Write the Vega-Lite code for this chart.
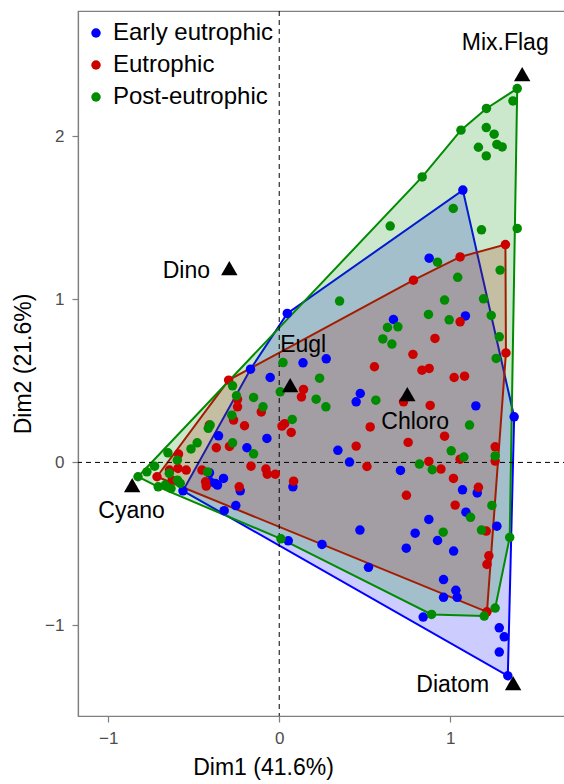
{
"$schema":"https://vega.github.io/schema/vega-lite/v6.json",
"width":490,"height":705,
"autosize":{"type":"none"},
"padding":{"left":78,"top":11,"right":0,"bottom":68},
"config":{"font":"Liberation Sans","view":{"stroke":"#7f7f7f","strokeWidth":1.2},
 "axis":{"grid":false,"domainColor":"#7f7f7f","domainWidth":1.2,"tickColor":"#7f7f7f","tickWidth":1.2,"tickSize":6,"labelColor":"#4d4d4d","labelFontSize":17,"titleFontSize":23,"titleFontWeight":"normal","titleColor":"#000000","labelPadding":8,"titlePadding":10}},
"datasets":{
"hull":[
{"hgrp":"Early eutrophic","ord":1,"d1":1.074,"d2":1.671},
{"hgrp":"Early eutrophic","ord":2,"d1":1.374,"d2":0.280},
{"hgrp":"Early eutrophic","ord":3,"d1":1.337,"d2":-1.309},
{"hgrp":"Early eutrophic","ord":4,"d1":-0.563,"d2":-0.174},
{"hgrp":"Early eutrophic","ord":5,"d1":-0.168,"d2":0.572},
{"hgrp":"Early eutrophic","ord":6,"d1":0.047,"d2":0.914},
{"hgrp":"Eutrophic","ord":1,"d1":1.323,"d2":1.337},
{"hgrp":"Eutrophic","ord":2,"d1":1.326,"d2":0.672},
{"hgrp":"Eutrophic","ord":3,"d1":1.215,"d2":-0.917},
{"hgrp":"Eutrophic","ord":4,"d1":-0.715,"d2":-0.088},
{"hgrp":"Eutrophic","ord":5,"d1":-0.296,"d2":0.505},
{"hgrp":"Eutrophic","ord":6,"d1":0.785,"d2":1.118},
{"hgrp":"Eutrophic","ord":7,"d1":1.058,"d2":1.261},
{"hgrp":"Post-eutrophic","ord":1,"d1":1.392,"d2":2.294},
{"hgrp":"Post-eutrophic","ord":2,"d1":1.348,"d2":-0.460},
{"hgrp":"Post-eutrophic","ord":3,"d1":1.263,"d2":-0.894},
{"hgrp":"Post-eutrophic","ord":4,"d1":1.199,"d2":-0.943},
{"hgrp":"Post-eutrophic","ord":5,"d1":0.891,"d2":-0.933},
{"hgrp":"Post-eutrophic","ord":6,"d1":0.010,"d2":-0.469},
{"hgrp":"Post-eutrophic","ord":7,"d1":-0.708,"d2":-0.150},
{"hgrp":"Post-eutrophic","ord":8,"d1":-0.826,"d2":-0.088},
{"hgrp":"Post-eutrophic","ord":9,"d1":0.836,"d2":1.752},
{"hgrp":"Post-eutrophic","ord":10,"d1":1.063,"d2":2.039},
{"hgrp":"Post-eutrophic","ord":11,"d1":1.212,"d2":2.172}
],
"pts":[
{"grp":"Early eutrophic","d1":1.074,"d2":1.671},
{"grp":"Early eutrophic","d1":0.877,"d2":1.253},
{"grp":"Early eutrophic","d1":0.047,"d2":0.914},
{"grp":"Early eutrophic","d1":0.668,"d2":0.877},
{"grp":"Early eutrophic","d1":1.089,"d2":0.899},
{"grp":"Early eutrophic","d1":0.139,"d2":0.611},
{"grp":"Early eutrophic","d1":0.275,"d2":0.636},
{"grp":"Early eutrophic","d1":0.474,"d2":0.423},
{"grp":"Early eutrophic","d1":0.450,"d2":0.372},
{"grp":"Early eutrophic","d1":1.150,"d2":0.347},
{"grp":"Early eutrophic","d1":1.374,"d2":0.280},
{"grp":"Early eutrophic","d1":0.343,"d2":0.074},
{"grp":"Early eutrophic","d1":0.411,"d2":0.002},
{"grp":"Early eutrophic","d1":0.709,"d2":-0.049},
{"grp":"Early eutrophic","d1":0.080,"d2":-0.150},
{"grp":"Early eutrophic","d1":1.072,"d2":-0.168},
{"grp":"Early eutrophic","d1":1.158,"d2":-0.187},
{"grp":"Early eutrophic","d1":1.092,"d2":-0.305},
{"grp":"Early eutrophic","d1":0.875,"d2":-0.350},
{"grp":"Early eutrophic","d1":1.273,"d2":-0.391},
{"grp":"Early eutrophic","d1":0.472,"d2":-0.415},
{"grp":"Early eutrophic","d1":0.795,"d2":-0.434},
{"grp":"Early eutrophic","d1":0.926,"d2":-0.479},
{"grp":"Early eutrophic","d1":0.053,"d2":-0.481},
{"grp":"Early eutrophic","d1":0.250,"d2":-0.503},
{"grp":"Early eutrophic","d1":0.743,"d2":-0.526},
{"grp":"Early eutrophic","d1":1.020,"d2":-0.544},
{"grp":"Early eutrophic","d1":0.961,"d2":-0.719},
{"grp":"Early eutrophic","d1":0.522,"d2":-0.644},
{"grp":"Early eutrophic","d1":-0.228,"d2":-0.174},
{"grp":"Early eutrophic","d1":-0.254,"d2":-0.265},
{"grp":"Early eutrophic","d1":-0.322,"d2":-0.296},
{"grp":"Early eutrophic","d1":1.033,"d2":-0.785},
{"grp":"Early eutrophic","d1":0.961,"d2":-0.828},
{"grp":"Early eutrophic","d1":1.041,"d2":-0.828},
{"grp":"Early eutrophic","d1":0.842,"d2":-0.949},
{"grp":"Early eutrophic","d1":1.287,"d2":-1.015},
{"grp":"Early eutrophic","d1":1.316,"d2":-1.070},
{"grp":"Early eutrophic","d1":1.287,"d2":-1.164},
{"grp":"Early eutrophic","d1":1.337,"d2":-1.309},
{"grp":"Early eutrophic","d1":-0.168,"d2":0.572},
{"grp":"Early eutrophic","d1":-0.053,"d2":0.521},
{"grp":"Early eutrophic","d1":-0.355,"d2":0.163},
{"grp":"Early eutrophic","d1":-0.072,"d2":0.147},
{"grp":"Early eutrophic","d1":-0.189,"d2":0.090},
{"grp":"Early eutrophic","d1":-0.408,"d2":-0.064},
{"grp":"Early eutrophic","d1":-0.404,"d2":-0.119},
{"grp":"Early eutrophic","d1":-0.361,"d2":-0.139},
{"grp":"Early eutrophic","d1":-0.326,"d2":-0.098},
{"grp":"Early eutrophic","d1":-0.374,"d2":-0.129},
{"grp":"Early eutrophic","d1":-0.563,"d2":-0.174},
{"grp":"Eutrophic","d1":1.323,"d2":1.337},
{"grp":"Eutrophic","d1":1.058,"d2":1.261},
{"grp":"Eutrophic","d1":0.785,"d2":1.118},
{"grp":"Eutrophic","d1":1.058,"d2":0.863},
{"grp":"Eutrophic","d1":0.911,"d2":0.761},
{"grp":"Eutrophic","d1":0.782,"d2":0.663},
{"grp":"Eutrophic","d1":0.557,"d2":0.587},
{"grp":"Eutrophic","d1":0.835,"d2":0.566},
{"grp":"Eutrophic","d1":0.877,"d2":0.577},
{"grp":"Eutrophic","d1":1.023,"d2":0.521},
{"grp":"Eutrophic","d1":1.084,"d2":0.529},
{"grp":"Eutrophic","d1":1.326,"d2":0.672},
{"grp":"Eutrophic","d1":0.142,"d2":0.448},
{"grp":"Eutrophic","d1":0.130,"d2":0.402},
{"grp":"Eutrophic","d1":0.727,"d2":0.372},
{"grp":"Eutrophic","d1":0.883,"d2":0.350},
{"grp":"Eutrophic","d1":0.016,"d2":0.223},
{"grp":"Eutrophic","d1":0.070,"d2":0.184},
{"grp":"Eutrophic","d1":0.532,"d2":0.218},
{"grp":"Eutrophic","d1":0.967,"d2":0.161},
{"grp":"Eutrophic","d1":0.450,"d2":0.100},
{"grp":"Eutrophic","d1":0.754,"d2":0.123},
{"grp":"Eutrophic","d1":1.263,"d2":0.096},
{"grp":"Eutrophic","d1":1.058,"d2":0.020},
{"grp":"Eutrophic","d1":1.263,"d2":0.008},
{"grp":"Eutrophic","d1":0.875,"d2":0.006},
{"grp":"Eutrophic","d1":0.513,"d2":-0.025},
{"grp":"Eutrophic","d1":0.946,"d2":-0.041},
{"grp":"Eutrophic","d1":0.084,"d2":-0.115},
{"grp":"Eutrophic","d1":1.019,"d2":-0.098},
{"grp":"Eutrophic","d1":1.165,"d2":-0.153},
{"grp":"Eutrophic","d1":0.744,"d2":-0.202},
{"grp":"Eutrophic","d1":1.029,"d2":-0.262},
{"grp":"Eutrophic","d1":1.211,"d2":-0.421},
{"grp":"Eutrophic","d1":1.226,"d2":-0.573},
{"grp":"Eutrophic","d1":1.215,"d2":-0.626},
{"grp":"Eutrophic","d1":1.215,"d2":-0.917},
{"grp":"Eutrophic","d1":-0.234,"d2":-0.150},
{"grp":"Eutrophic","d1":-0.427,"d2":-0.145},
{"grp":"Eutrophic","d1":-0.296,"d2":0.505},
{"grp":"Eutrophic","d1":-0.244,"d2":0.387},
{"grp":"Eutrophic","d1":-0.244,"d2":0.341},
{"grp":"Eutrophic","d1":-0.267,"d2":0.260},
{"grp":"Eutrophic","d1":-0.203,"d2":0.225},
{"grp":"Eutrophic","d1":-0.105,"d2":0.310},
{"grp":"Eutrophic","d1":-0.409,"d2":0.229},
{"grp":"Eutrophic","d1":-0.368,"d2":0.090},
{"grp":"Eutrophic","d1":-0.291,"d2":0.098},
{"grp":"Eutrophic","d1":-0.165,"d2":-0.023},
{"grp":"Eutrophic","d1":-0.078,"d2":-0.041},
{"grp":"Eutrophic","d1":-0.023,"d2":-0.072},
{"grp":"Eutrophic","d1":-0.452,"d2":-0.047},
{"grp":"Eutrophic","d1":-0.431,"d2":-0.119},
{"grp":"Eutrophic","d1":-0.589,"d2":0.051},
{"grp":"Eutrophic","d1":-0.544,"d2":-0.047},
{"grp":"Eutrophic","d1":-0.592,"d2":-0.037},
{"grp":"Eutrophic","d1":-0.715,"d2":-0.088},
{"grp":"Eutrophic","d1":-0.626,"d2":-0.109},
{"grp":"Eutrophic","d1":-0.642,"d2":-0.047},
{"grp":"Eutrophic","d1":0.032,"d2":0.238},
{"grp":"Eutrophic","d1":-0.070,"d2":-0.072},
{"grp":"Post-eutrophic","d1":1.392,"d2":2.294},
{"grp":"Post-eutrophic","d1":1.367,"d2":2.218},
{"grp":"Post-eutrophic","d1":1.212,"d2":2.172},
{"grp":"Post-eutrophic","d1":1.063,"d2":2.039},
{"grp":"Post-eutrophic","d1":1.211,"d2":2.055},
{"grp":"Post-eutrophic","d1":1.257,"d2":2.014},
{"grp":"Post-eutrophic","d1":1.165,"d2":1.934},
{"grp":"Post-eutrophic","d1":1.273,"d2":1.951},
{"grp":"Post-eutrophic","d1":1.304,"d2":1.936},
{"grp":"Post-eutrophic","d1":1.211,"d2":1.881},
{"grp":"Post-eutrophic","d1":0.836,"d2":1.752},
{"grp":"Post-eutrophic","d1":1.018,"d2":1.558},
{"grp":"Post-eutrophic","d1":0.649,"d2":1.450},
{"grp":"Post-eutrophic","d1":1.183,"d2":1.427},
{"grp":"Post-eutrophic","d1":1.392,"d2":1.436},
{"grp":"Post-eutrophic","d1":0.926,"d2":1.229},
{"grp":"Post-eutrophic","d1":1.044,"d2":1.136},
{"grp":"Post-eutrophic","d1":0.967,"d2":0.996},
{"grp":"Post-eutrophic","d1":0.353,"d2":0.990},
{"grp":"Post-eutrophic","d1":1.292,"d2":1.180},
{"grp":"Post-eutrophic","d1":0.873,"d2":0.908},
{"grp":"Post-eutrophic","d1":0.994,"d2":0.875},
{"grp":"Post-eutrophic","d1":1.195,"d2":1.004},
{"grp":"Post-eutrophic","d1":1.240,"d2":0.902},
{"grp":"Post-eutrophic","d1":1.287,"d2":0.771},
{"grp":"Post-eutrophic","d1":1.269,"d2":0.638},
{"grp":"Post-eutrophic","d1":0.633,"d2":0.828},
{"grp":"Post-eutrophic","d1":0.694,"d2":0.832},
{"grp":"Post-eutrophic","d1":0.606,"d2":0.758},
{"grp":"Post-eutrophic","d1":0.659,"d2":0.726},
{"grp":"Post-eutrophic","d1":0.022,"d2":0.613},
{"grp":"Post-eutrophic","d1":0.236,"d2":0.517},
{"grp":"Post-eutrophic","d1":0.216,"d2":0.388},
{"grp":"Post-eutrophic","d1":0.273,"d2":0.341},
{"grp":"Post-eutrophic","d1":0.565,"d2":0.382},
{"grp":"Post-eutrophic","d1":0.006,"d2":0.433},
{"grp":"Post-eutrophic","d1":0.076,"d2":0.264},
{"grp":"Post-eutrophic","d1":1.113,"d2":0.229},
{"grp":"Post-eutrophic","d1":1.006,"d2":0.071},
{"grp":"Post-eutrophic","d1":1.080,"d2":0.033},
{"grp":"Post-eutrophic","d1":1.263,"d2":0.040},
{"grp":"Post-eutrophic","d1":0.820,"d2":-0.010},
{"grp":"Post-eutrophic","d1":0.895,"d2":-0.045},
{"grp":"Post-eutrophic","d1":1.244,"d2":-0.264},
{"grp":"Post-eutrophic","d1":1.119,"d2":-0.337},
{"grp":"Post-eutrophic","d1":0.959,"d2":-0.428},
{"grp":"Post-eutrophic","d1":1.183,"d2":-0.415},
{"grp":"Post-eutrophic","d1":1.348,"d2":-0.460},
{"grp":"Post-eutrophic","d1":0.010,"d2":-0.469},
{"grp":"Post-eutrophic","d1":1.263,"d2":-0.894},
{"grp":"Post-eutrophic","d1":1.199,"d2":-0.943},
{"grp":"Post-eutrophic","d1":0.891,"d2":-0.933},
{"grp":"Post-eutrophic","d1":-0.273,"d2":0.470},
{"grp":"Post-eutrophic","d1":-0.250,"d2":0.409},
{"grp":"Post-eutrophic","d1":-0.150,"d2":0.399},
{"grp":"Post-eutrophic","d1":-0.095,"d2":0.341},
{"grp":"Post-eutrophic","d1":-0.277,"d2":0.290},
{"grp":"Post-eutrophic","d1":-0.415,"d2":0.209},
{"grp":"Post-eutrophic","d1":-0.404,"d2":0.229},
{"grp":"Post-eutrophic","d1":-0.273,"d2":0.120},
{"grp":"Post-eutrophic","d1":-0.150,"d2":0.053},
{"grp":"Post-eutrophic","d1":-0.480,"d2":0.120},
{"grp":"Post-eutrophic","d1":-0.516,"d2":0.083},
{"grp":"Post-eutrophic","d1":-0.651,"d2":0.059},
{"grp":"Post-eutrophic","d1":-0.419,"d2":-0.058},
{"grp":"Post-eutrophic","d1":-0.729,"d2":-0.023},
{"grp":"Post-eutrophic","d1":-0.774,"d2":-0.058},
{"grp":"Post-eutrophic","d1":-0.826,"d2":-0.088},
{"grp":"Post-eutrophic","d1":-0.643,"d2":-0.067},
{"grp":"Post-eutrophic","d1":-0.595,"d2":-0.109},
{"grp":"Post-eutrophic","d1":-0.579,"d2":-0.129},
{"grp":"Post-eutrophic","d1":-0.708,"d2":-0.150},
{"grp":"Post-eutrophic","d1":-0.667,"d2":-0.139},
{"grp":"Post-eutrophic","d1":-0.633,"d2":-0.160},
{"grp":"Post-eutrophic","d1":-0.596,"d2":0.014}
],
"vars":[
{"name":"Mix.Flag","d1":1.421,"d2":2.382,"lx":1.322,"ly":2.571},
{"name":"Dino","d1":-0.292,"d2":1.192,"lx":-0.543,"ly":1.174},
{"name":"Eugl","d1":0.064,"d2":0.474,"lx":0.140,"ly":0.718},
{"name":"Chloro","d1":0.749,"d2":0.419,"lx":0.795,"ly":0.249},
{"name":"Cyano","d1":-0.860,"d2":-0.139,"lx":-0.864,"ly":-0.299},
{"name":"Diatom","d1":1.368,"d2":-1.354,"lx":1.015,"ly":-1.366}
],
"zero":[{"v":0}]
},
"resolve":{"legend":{"color":"independent","fill":"independent","stroke":"independent"}},
"layer":[
{"data":{"name":"hull"},
 "mark":{"type":"line","interpolate":"linear-closed","strokeWidth":2,"fillOpacity":0.2},
 "encoding":{
  "x":{"field":"d1","type":"quantitative","scale":{"domain":[-1.177,1.689],"nice":false,"zero":false},"axis":{"values":[-1,0,1],"format":"d","title":"Dim1 (41.6%)","titleX":185}},
  "y":{"field":"d2","type":"quantitative","scale":{"domain":[-1.556,2.77],"nice":false,"zero":false},"axis":{"values":[-1,0,1,2],"format":"d","title":"Dim2 (21.6%)","titlePadding":9}},
  "order":{"field":"ord","type":"quantitative"},
  "stroke":{"field":"hgrp","type":"nominal","scale":{"domain":["Early eutrophic","Eutrophic","Post-eutrophic"],"range":["#0000FF","#CD0000","#008B00"]},"legend":null},
  "fill":{"field":"hgrp","type":"nominal","scale":{"domain":["Early eutrophic","Eutrophic","Post-eutrophic"],"range":["#0000FF","#CD0000","#008B00"]},"legend":null}
 }},
{"data":{"name":"zero"},"mark":{"type":"rule","strokeDash":[5,4],"color":"black","strokeWidth":1},
 "encoding":{"x":{"field":"v","type":"quantitative"}}},
{"data":{"name":"zero"},"mark":{"type":"rule","strokeDash":[5,4],"color":"black","strokeWidth":1},
 "encoding":{"y":{"field":"v","type":"quantitative"}}},
{"data":{"name":"pts"},"mark":{"type":"circle","size":90,"opacity":1},
 "encoding":{
  "x":{"field":"d1","type":"quantitative"},
  "y":{"field":"d2","type":"quantitative"},
  "color":{"field":"grp","type":"nominal","scale":{"domain":["Early eutrophic","Eutrophic","Post-eutrophic"],"range":["#0000FF","#CD0000","#008B00"]},
   "legend":{"title":null,"orient":"none","legendX":6,"legendY":10,"labelFontSize":24,"labelLimit":400,"labelColor":"#000000","symbolType":"circle","symbolSize":90,"rowPadding":8,"labelOffset":5,"padding":0,"symbolStrokeWidth":0,"symbolOpacity":1}}
 }},
{"data":{"name":"vars"},"mark":{"type":"point","shape":"triangle-up","filled":true,"size":270,"color":"black","opacity":1},
 "encoding":{"x":{"field":"d1","type":"quantitative"},"y":{"field":"d2","type":"quantitative"}}},
{"data":{"name":"vars"},"mark":{"type":"text","fontSize":23,"color":"black","align":"center","baseline":"middle"},
 "encoding":{"x":{"field":"lx","type":"quantitative"},"y":{"field":"ly","type":"quantitative"},"text":{"field":"name","type":"nominal"}}}
]
}
